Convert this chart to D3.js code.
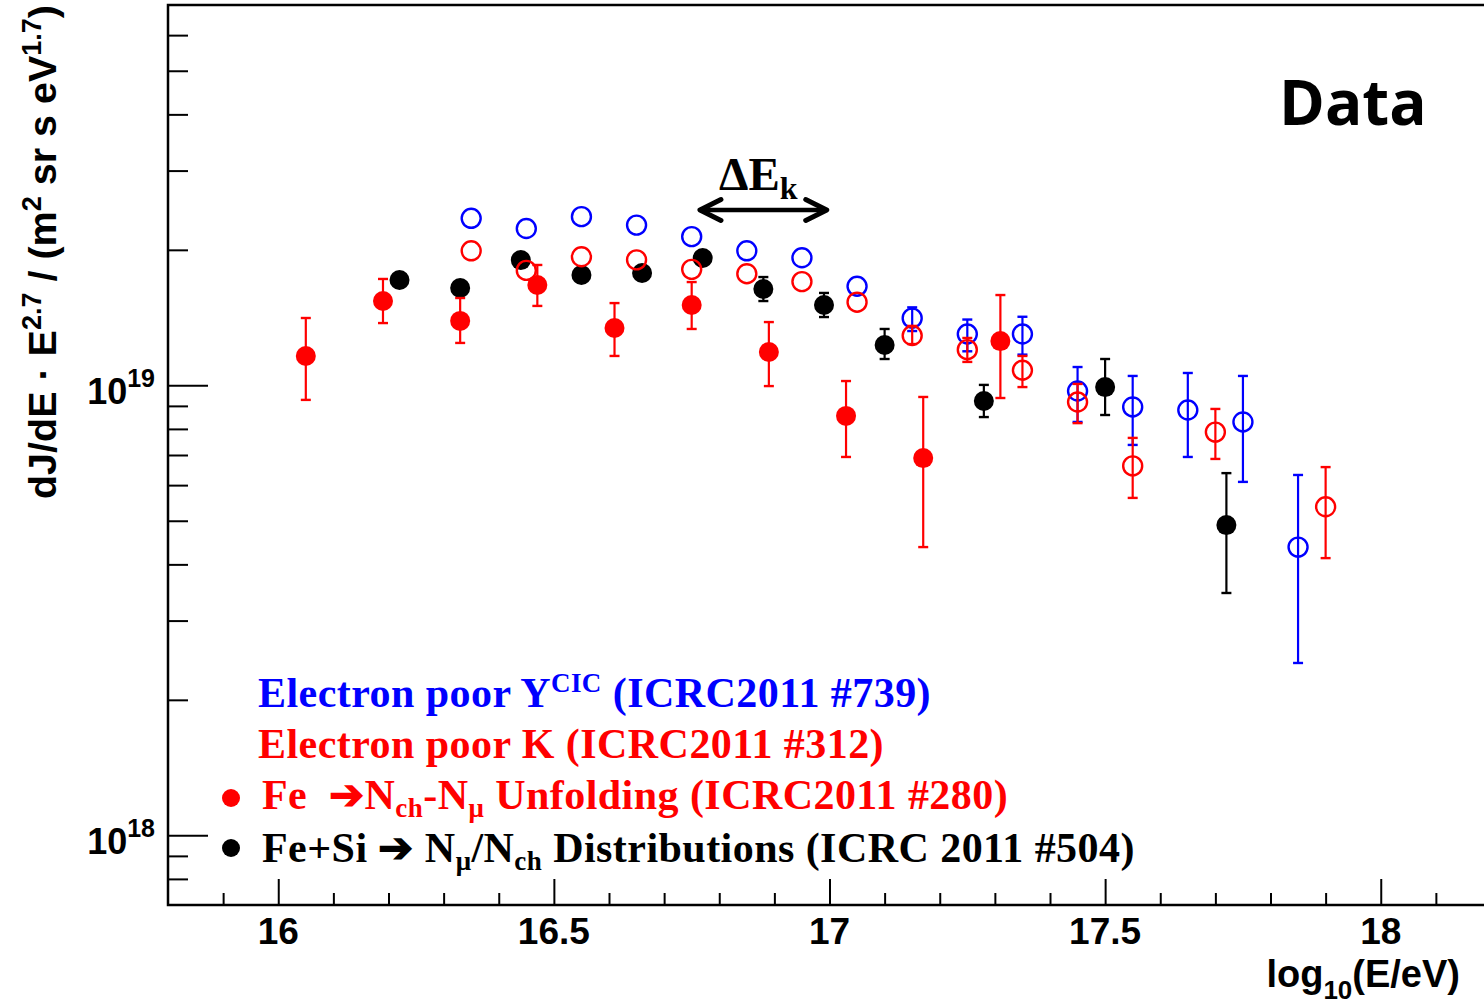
<!DOCTYPE html>
<html>
<head>
<meta charset="utf-8">
<script src="https://cdn.jsdelivr.net/npm/d3@7"></script>
<style>
  html, body { margin: 0; padding: 0; background: #fff; }
  svg { display: block; }
</style>
</head>
<body>
<svg id="chart" width="1484" height="1006"></svg>
<script>
// ---- data: log10(E/eV) bin centres and flux values (dJ/dE * E^2.7, in units of 1e19) ----
const yicX   = [16.35, 16.45, 16.55, 16.65, 16.75, 16.85, 16.95, 17.05, 17.15, 17.25, 17.35, 17.45, 17.55, 17.65, 17.75, 17.85];
const yicVal = [2.35, 2.23, 2.37, 2.27, 2.14, 1.99, 1.92, 1.66, 1.41, 1.30, 1.30, 0.971, 0.895, 0.881, 0.829, 0.437];
const yicLo  = [null, null, null, null, null, null, null, null, 1.32, 1.19, 1.17, 0.829, 0.737, 0.693, 0.610, 0.2415];
const yicHi  = [null, null, null, null, null, null, null, null, 1.49, 1.40, 1.42, 1.098, 1.049, 1.065, 1.049, 0.632];

const kX   = [16.35, 16.45, 16.55, 16.65, 16.75, 16.85, 16.95, 17.05, 17.15, 17.25, 17.35, 17.45, 17.55, 17.70, 17.90];
const kVal = [1.99, 1.80, 1.93, 1.90, 1.81, 1.77, 1.70, 1.53, 1.29, 1.20, 1.08, 0.918, 0.662, 0.787, 0.537];
const kLo  = [null, null, null, null, null, null, null, null, 1.235, 1.127, 0.991, 0.824, 0.562, 0.686, 0.413];
const kHi  = [null, null, null, null, null, null, null, null, 1.355, 1.274, 1.162, 1.007, 0.764, 0.886, 0.658];

const feX   = [16.05, 16.19, 16.33, 16.47, 16.61, 16.75, 16.89, 17.03, 17.17, 17.31];
const feVal = [1.162, 1.539, 1.390, 1.671, 1.341, 1.508, 1.186, 0.855, 0.689, 1.254];
const feLo  = [0.928, 1.375, 1.242, 1.501, 1.162, 1.334, 0.996, 0.693, 0.437, 0.937];
const feHi  = [1.411, 1.723, 1.563, 1.851, 1.523, 1.696, 1.382, 1.022, 0.942, 1.587];

const fsX   = [16.22, 16.33, 16.44, 16.55, 16.66, 16.77, 16.88, 16.99, 17.10, 17.28, 17.50, 17.72];
const fsVal = [1.714, 1.645, 1.898, 1.758, 1.776, 1.918, 1.637, 1.508, 1.229, 0.923, 0.991, 0.489];
const fsLo  = [null, null, null, null, null, null, 1.539, 1.418, 1.144, 0.850, 0.859, 0.3455];
const fsHi  = [null, null, null, null, null, null, 1.740, 1.604, 1.334, 1.002, 1.144, 0.638];

const unit = 1e19;

const xMajor = [16, 16.5, 17, 17.5, 18];
const xMajorLabels = ["16", "16.5", "17", "17.5", "18"];
const yMajor = [1e18, 1e19];
const yMajorExp = ["18", "19"];

// ---- layout ----
const svg = d3.select("#chart");
const L = 168, R = 1491, T = 5, B = 905;

const x = d3.scaleLinear().domain([15.8, 18.2]).range([L, R]);
const y = d3.scaleLog().domain([7e17, 7e19]).range([B, T]);

const xMinor = d3.range(159, 182).map(v => v / 10).filter(v => Math.abs(v * 2 - Math.round(v * 2)) > 1e-6);
const yMinor = [];
for (const dec of [1e17, 1e18, 1e19]) {
  for (let m = 2; m <= 9; m++) {
    const v = m * dec;
    if (v > 7e17 && v < 7e19) yMinor.push(v);
  }
}

// ---- axes (ticks drawn inward) ----
const axisStyle = g => {
  g.select(".domain").remove();
  g.selectAll("text").remove();
  g.selectAll("line").attr("stroke", "#000").attr("stroke-width", 2);
};

svg.append("g").attr("transform", `translate(0,${B})`)
  .call(d3.axisBottom(x).tickValues(xMajor).tickSize(-26).tickFormat(""))
  .call(axisStyle);
svg.append("g").attr("transform", `translate(0,${B})`)
  .call(d3.axisBottom(x).tickValues(xMinor).tickSize(-12).tickFormat(""))
  .call(axisStyle);
svg.append("g").attr("transform", `translate(${L},0)`)
  .call(d3.axisLeft(y).tickValues(yMajor).tickSize(-40).tickFormat(""))
  .call(axisStyle);
svg.append("g").attr("transform", `translate(${L},0)`)
  .call(d3.axisLeft(y).tickValues(yMinor).tickSize(-20).tickFormat(""))
  .call(axisStyle);

// frame
svg.append("rect")
  .attr("x", L).attr("y", T).attr("width", R - L).attr("height", B - T)
  .attr("fill", "none").attr("stroke", "#000").attr("stroke-width", 2.5);

// ---- tick labels ----
const sansBold = "'Liberation Sans', Arial, Helvetica, sans-serif";
const serifBold = "'Liberation Serif', 'Times New Roman', serif";

svg.append("g").selectAll("text")
  .data(xMajor)
  .join("text")
  .attr("x", d => x(d))
  .attr("y", 944)
  .attr("text-anchor", "middle")
  .attr("font-family", sansBold)
  .attr("font-weight", "bold")
  .attr("font-size", 37)
  .text((d, i) => xMajorLabels[i]);

const yl = svg.append("g").selectAll("text")
  .data(yMajor)
  .join("text")
  .attr("x", 155)
  .attr("y", d => y(d) + 19)
  .attr("text-anchor", "end")
  .attr("font-family", sansBold)
  .attr("font-weight", "bold")
  .attr("font-size", 36);
yl.append("tspan").text("10");
yl.append("tspan").attr("dy", -17).attr("font-size", 25).text((d, i) => yMajorExp[i]);

// ---- axis titles ----
const xt = svg.append("text")
  .attr("x", 1460).attr("y", 987)
  .attr("text-anchor", "end")
  .attr("font-family", sansBold).attr("font-weight", "bold").attr("font-size", 38);
xt.append("tspan").text("log");
xt.append("tspan").attr("dy", 12).attr("font-size", 26).text("10");
xt.append("tspan").attr("dy", -12).text("(E/eV)");

const yt = svg.append("text")
  .attr("transform", "translate(56,5) rotate(-90)")
  .attr("text-anchor", "end")
  .attr("font-family", sansBold).attr("font-weight", "bold").attr("font-size", 39.5);
yt.append("tspan").text("dJ/dE \u00B7 E");
yt.append("tspan").attr("dy", -15).attr("font-size", 27).text("2.7");
yt.append("tspan").attr("dy", 15).text(" / (m");
yt.append("tspan").attr("dy", -15).attr("font-size", 27).text("2");
yt.append("tspan").attr("dy", 15).text(" sr s eV");
yt.append("tspan").attr("dy", -15).attr("font-size", 27).text("1.7");
yt.append("tspan").attr("dy", 15).text(")");

// ---- series ----
function drawSeries(xs, vals, lo, hi, color, filled) {
  const g = svg.append("g");
  const rows = xs.map((xv, i) => ({ x: xv, v: vals[i] * unit, lo: lo[i] == null ? null : lo[i] * unit, hi: hi[i] == null ? null : hi[i] * unit }));
  const withErr = rows.filter(d => d.lo != null);
  g.selectAll("line.bar").data(withErr).join("line")
    .attr("x1", d => x(d.x)).attr("x2", d => x(d.x))
    .attr("y1", d => y(d.lo)).attr("y2", d => y(d.hi))
    .attr("stroke", color).attr("stroke-width", 2.2);
  for (const k of ["lo", "hi"]) {
    g.selectAll("line.cap" + k).data(withErr).join("line")
      .attr("x1", d => x(d.x) - 5).attr("x2", d => x(d.x) + 5)
      .attr("y1", d => y(d[k])).attr("y2", d => y(d[k]))
      .attr("stroke", color).attr("stroke-width", 2.4);
  }
  g.selectAll("circle").data(rows).join("circle")
    .attr("cx", d => x(d.x)).attr("cy", d => y(d.v))
    .attr("r", filled ? 10 : 9.5)
    .attr("fill", filled ? color : "#fff")
    .attr("fill-opacity", filled ? 1 : 0)
    .attr("stroke", color).attr("stroke-width", filled ? 0 : 2.4);
}

drawSeries(fsX, fsVal, fsLo, fsHi, "#000", true);
drawSeries(yicX, yicVal, yicLo, yicHi, "#0000ff", false);
drawSeries(kX, kVal, kLo, kHi, "#ff0000", false);
drawSeries(feX, feVal, feLo, feHi, "#ff0000", true);

// ---- energy-resolution arrow ----
const arrowY = 210, ax0 = 16.765, ax1 = 16.995;
svg.append("line")
  .attr("x1", x(ax0) + 2).attr("x2", x(ax1) - 2)
  .attr("y1", arrowY).attr("y2", arrowY)
  .attr("stroke", "#000").attr("stroke-width", 4.5);
svg.append("path")
  .attr("d", `M${x(ax0) + 21},${arrowY - 10.5} L${x(ax0)},${arrowY} L${x(ax0) + 21},${arrowY + 10.5}`
           + ` M${x(ax1) - 21},${arrowY - 10.5} L${x(ax1)},${arrowY} L${x(ax1) - 21},${arrowY + 10.5}`)
  .attr("fill", "none").attr("stroke", "#000").attr("stroke-width", 5)
  .attr("stroke-linecap", "round").attr("stroke-linejoin", "round");
const de = svg.append("text")
  .attr("x", 719).attr("y", 190)
  .attr("font-family", serifBold).attr("font-weight", "bold").attr("font-size", 47);
de.append("tspan").text("\u0394E");
de.append("tspan").attr("dy", 9).attr("font-size", 32).text("k");

// ---- "Data" tag ----
svg.append("text")
  .attr("x", 1279).attr("y", 125)
  .attr("font-family", "'Comic Sans MS', 'Open Sans', sans-serif")
  .attr("font-weight", "bold").attr("font-size", 62)
  .text("Data");

// ---- legend ----
const legendFont = 42, subSize = 27, shift = 8;
function legendLine(xp, yp, color, parts) {
  const t = svg.append("text").attr("x", xp).attr("y", yp)
    .attr("fill", color)
    .attr("letter-spacing", 0.45)
    .attr("font-family", serifBold).attr("font-weight", "bold").attr("font-size", legendFont);
  let cur = 0;
  for (const [s, mode] of parts) {
    const target = mode === "sub" ? shift : mode === "sup" ? -15 : 0;
    const ts = t.append("tspan").attr("dy", target - cur).text(s);
    if (mode) ts.attr("font-size", subSize);
    cur = target;
  }
  return t;
}

legendLine(258, 707, "#0000ff", [["Electron poor Y"], ["CIC", "sup"], [" (ICRC2011 #739)"]]);
legendLine(258, 758, "#ff0000", [["Electron poor K (ICRC2011 #312)"]]);
svg.append("circle").attr("cx", 231).attr("cy", 798).attr("r", 9).attr("fill", "#ff0000");
legendLine(262, 809, "#ff0000", [["Fe \u00A0\u2794N"], ["ch", "sub"], ["-N"], ["\u03BC", "sub"], [" Unfolding (ICRC2011 #280)"]]);
svg.append("circle").attr("cx", 231).attr("cy", 848).attr("r", 9).attr("fill", "#000");
legendLine(262, 861.5, "#000", [["Fe+Si \u2794 N"], ["\u03BC", "sub"], ["/N"], ["ch", "sub"], [" Distributions (ICRC 2011 #504)"]]);
</script>
</body>
</html>
